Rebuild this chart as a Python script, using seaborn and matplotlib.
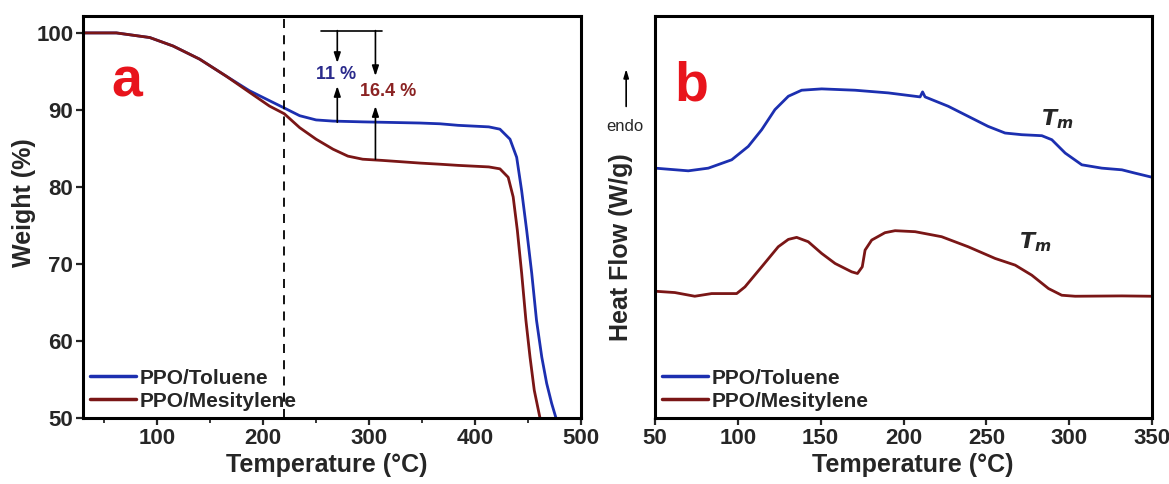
import matplotlib
matplotlib.use("Agg")
import matplotlib.pyplot as plt
import seaborn as sns
import pandas as pd

sns.set_style("ticks")
plt.rcParams['font.family'] = ['Liberation Sans', 'DejaVu Sans']
plt.rcParams['font.weight'] = 'bold'

# ---------------- Data: TGA (panel a) ----------------
tga_temp_tol = [30, 61.5, 93, 115, 140, 165, 187, 206, 220, 234.5, 250, 266, 294, 348, 367, 384, 413,
                423.5, 433, 439.3, 444, 448.7, 453.5, 458, 463, 467.6, 472.3, 476.4]
tga_w_tol = [100.0, 100.0, 99.4, 98.3, 96.6, 94.4, 92.5, 91.2, 90.25, 89.25, 88.7, 88.55, 88.45, 88.3, 88.2,
             88.0, 87.8, 87.5, 86.2, 83.85, 79.5, 74.4, 68.8, 62.7, 57.9, 54.5, 51.9, 50.0]
tga_temp_mes = [30, 61.5, 93, 115, 140, 165, 187, 206, 220, 234.5, 250, 266, 280, 294, 312, 348, 367, 384, 413,
                423.5, 431.3, 436, 439.9, 444, 448, 451.9, 455.9, 461.3]
tga_w_mes = [100.0, 100.0, 99.4, 98.3, 96.6, 94.4, 92.3, 90.5, 89.5, 87.7, 86.2, 84.9, 84.0, 83.6, 83.45, 83.1,
             82.95, 82.8, 82.6, 82.35, 81.25, 78.7, 74.4, 68.8, 62.7, 57.9, 53.6, 50.0]

# ---------------- Data: DSC (panel b) ----------------
dsc_temp_tol = [50, 70.1, 82.2, 96.3, 106.3, 114.4, 122.4, 130.5, 138.5, 150.6, 170.7, 190.8, 210, 211.5, 213,
                227, 243, 251, 261.3, 271.4, 283.5, 289.5, 297.6, 307.6, 319.7, 331.8, 339.8, 349.8]
dsc_hf_tol = [7.47, 7.39, 7.47, 7.72, 8.12, 8.62, 9.22, 9.62, 9.80, 9.84, 9.80, 9.72, 9.60, 9.75, 9.60,
              9.32, 8.92, 8.72, 8.52, 8.47, 8.44, 8.32, 7.92, 7.57, 7.47, 7.42, 7.32, 7.20]
dsc_temp_mes = [50, 62, 74, 84.2, 99.3, 104.3, 114.4, 124.4, 130.5, 135.5, 142.5, 150.6, 158.7, 168.7, 172.2,
                175.1, 176.8, 180.8, 188.8, 194.9, 207, 223, 239, 255.3, 267.4, 277.4, 287.5, 295.5, 303.6,
                331.8, 349.8]
dsc_hf_mes = [3.79, 3.75, 3.64, 3.72, 3.72, 3.92, 4.52, 5.12, 5.34, 5.40, 5.27, 4.92, 4.62, 4.37, 4.32,
              4.52, 5.02, 5.32, 5.54, 5.60, 5.57, 5.42, 5.12, 4.77, 4.57, 4.27, 3.87, 3.67, 3.64, 3.65, 3.64]

series_names = ["PPO/Toluene", "PPO/Mesitylene"]
colors = ["#1c2fb0", "#7a1616"]

tga_df = pd.concat([
    pd.DataFrame({"T": tga_temp_tol, "W": tga_w_tol, "s": series_names[0]}),
    pd.DataFrame({"T": tga_temp_mes, "W": tga_w_mes, "s": series_names[1]}),
])
dsc_df = pd.concat([
    pd.DataFrame({"T": dsc_temp_tol, "H": dsc_hf_tol, "s": series_names[0]}),
    pd.DataFrame({"T": dsc_temp_mes, "H": dsc_hf_mes, "s": series_names[1]}),
])

fig = plt.figure(figsize=(11.69, 4.84), dpi=100)
ax1 = fig.add_axes([0.0710, 0.1364, 0.4260, 0.8306])
ax2 = fig.add_axes([0.5603, 0.1364, 0.4252, 0.8306])

pal = dict(zip(series_names, colors))
sns.lineplot(data=tga_df, x="T", y="W", hue="s", palette=pal, ax=ax1, linewidth=2, sort=False, estimator=None)
sns.lineplot(data=dsc_df, x="T", y="H", hue="s", palette=pal, ax=ax2, linewidth=2, sort=False, estimator=None)

for ax in (ax1, ax2):
    for sp in ax.spines.values():
        sp.set_linewidth(2.2)
        sp.set_color("black")
    ax.tick_params(axis="both", which="major", direction="out", length=5, width=1.6, labelsize=16, pad=2)
    ax.tick_params(axis="both", which="minor", direction="out", length=3.5, width=1.3)
    ax.set_xlabel("Temperature (°C)", fontsize=18, fontweight="bold")
    leg = ax.legend(loc="lower left", frameon=False, fontsize=15, handlelength=2.2,
                    handletextpad=0.15, borderaxespad=0.15, borderpad=0.2, labelspacing=0.2)
    for t in leg.get_texts():
        t.set_fontweight("bold")
    for l in leg.get_lines():
        l.set_linewidth(2.5)

# Panel a
ax1.set_xlim(30, 500)
ax1.set_ylim(50, 102.2)
ax1.set_xticks([100, 200, 300, 400, 500])
ax1.set_xticks([50, 150, 250, 350, 450], minor=True)
ax1.set_yticks([50, 60, 70, 80, 90, 100])
ax1.set_ylabel("Weight (%)", fontsize=18, fontweight="bold")
ax1.yaxis.set_label_coords(-0.118, 0.535)
ax1.xaxis.set_label_coords(0.49, -0.117)
ax1.xaxis.label.set_va("center")
ax1.yaxis.label.set_va("center")
for lab in ax1.get_xticklabels() + ax1.get_yticklabels():
    lab.set_fontweight("bold")
ax1.axvline(220, color="black", linestyle=(0, (5, 4)), linewidth=1.3)
ax1.plot([254.5, 312], [100.3, 100.3], color="black", linewidth=1.2)
arrow_kw = dict(arrowstyle="-|>,head_length=0.6,head_width=0.2", color="black", lw=1.2, shrinkA=0, shrinkB=0)
ax1.annotate("", xy=(270, 96.1), xytext=(270, 100.3), arrowprops=arrow_kw)
ax1.annotate("", xy=(270, 93.1), xytext=(270, 88.4), arrowprops=arrow_kw)
ax1.annotate("", xy=(306, 94.4), xytext=(306, 100.3), arrowprops=arrow_kw)
ax1.annotate("", xy=(306, 90.5), xytext=(306, 83.6), arrowprops=arrow_kw)
ax1.text(269, 94.6, "11 %", color="#2b2b8c", fontsize=13, fontweight="bold", ha="center", va="center")
ax1.text(318, 92.4, "16.4 %", color="#8b2323", fontsize=13, fontweight="bold", ha="center", va="center")
ax1.text(71, 93.5, "a", color="#e8141c", fontsize=40, fontweight="bold", ha="center", va="center")

# Panel b
ax2.set_xlim(50, 350)
ax2.set_ylim(0, 12.02)
ax2.set_xticks([50, 100, 150, 200, 250, 300, 350])
ax2.set_yticks([])
ax2.set_ylabel("Heat Flow (W/g)", fontsize=18, fontweight="bold")
ax2.yaxis.set_label_coords(-0.068, 0.424)
ax2.xaxis.set_label_coords(0.518, -0.117)
ax2.xaxis.label.set_va("center")
ax2.yaxis.label.set_va("center")
for lab in ax2.get_xticklabels():
    lab.set_fontweight("bold")
ax2.text(72, 9.9, "b", color="#e8141c", fontsize=40, fontweight="bold", ha="center", va="center")
ax2.text(293, 8.92, r"$\boldsymbol{T}_{\boldsymbol{m}}$", fontsize=16, ha="center", va="center")
ax2.text(279.5, 5.27, r"$\boldsymbol{T}_{\boldsymbol{m}}$", fontsize=16, ha="center", va="center")
ax2.text(-0.06, 0.725, "endo", transform=ax2.transAxes, fontsize=12, fontweight="normal",
         ha="center", va="center")
ax2.annotate("", xy=(-0.058, 0.868), xytext=(-0.058, 0.775), xycoords="axes fraction",
             textcoords="axes fraction", annotation_clip=False,
             arrowprops=dict(arrowstyle="-|>,head_length=0.5,head_width=0.15", color="black", lw=1.2,
                             shrinkA=0, shrinkB=0))

fig.savefig("out.png", dpi=100)
